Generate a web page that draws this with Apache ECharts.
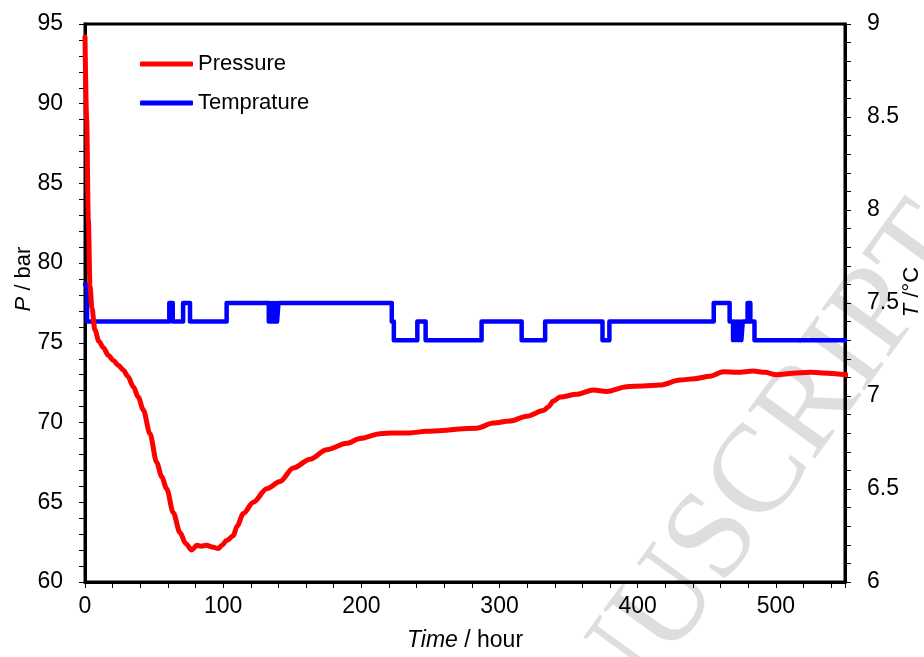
<!DOCTYPE html>
<html>
<head>
<meta charset="utf-8">
<script src="https://cdn.jsdelivr.net/npm/echarts@6/dist/echarts.min.js"></script>
<style>
html,body{margin:0;padding:0;background:#fff;}
#chart{width:924px;height:657px;}
</style>
</head>
<body>
<div id="chart"></div>
<script>
// Pressure (bar) vs time (hour)
var pTime  = [0, 1.2, 2.4, 3.6, 5, 7.2, 10, 13.3, 17, 20.5, 24, 27.7, 31, 35, 38.5, 42.2, 47, 51.9, 55.5, 59.1, 63.9, 68.7, 73, 77.2, 78.5, 80.8, 84, 88, 92, 96.5, 99, 102.5, 107.3, 110, 114.6, 121.8, 131.5, 141.1, 150.7, 162.8, 174.9, 189.4, 199, 213.5, 223, 235, 247, 259, 271, 283.5, 295.5, 307.6, 319.7, 331.7, 335.5, 338.9, 343.8, 355.8, 367.9, 377.5, 392, 404, 416, 430.6, 441, 452.3, 461.9, 472, 483.6, 492, 500.5, 512, 524.7, 538, 551];
var pValue = [94.2, 89, 82.8, 78.6, 77.2, 75.8, 75.1, 74.7, 74.2, 73.9, 73.6, 73.3, 72.9, 72.25, 71.6, 70.8, 69.3, 67.5, 66.6, 65.85, 64.35, 63.1, 62.4, 62.0, 62.1, 62.3, 62.25, 62.3, 62.2, 62.1, 62.3, 62.6, 62.9, 63.5, 64.3, 65.0, 65.85, 66.3, 67.15, 67.7, 68.3, 68.7, 69.0, 69.3, 69.35, 69.35, 69.45, 69.5, 69.6, 69.65, 69.97, 70.1, 70.4, 70.75, 71.0, 71.35, 71.6, 71.77, 72.05, 71.95, 72.25, 72.3, 72.35, 72.67, 72.75, 72.9, 73.18, 73.15, 73.23, 73.15, 73.0, 73.1, 73.15, 73.1, 73.0];

// Temperature (°C): change times and the value held from each time on
var tTime  = [0, 1.5, 61, 63.5, 71, 76, 102.5, 133, 134, 135, 136, 137, 138, 139, 140, 222, 223.5, 240.5, 246.5, 287, 316, 333, 374.5, 379.5, 455, 466.5, 469, 470, 471, 472, 473, 474, 475, 476, 479.5, 481.5, 484.5, 550];
var tValue = [7.6, 7.4, 7.5, 7.4, 7.5, 7.4, 7.5, 7.4, 7.5, 7.4, 7.5, 7.4, 7.5, 7.4, 7.5, 7.4, 7.3, 7.4, 7.3, 7.4, 7.3, 7.4, 7.3, 7.4, 7.5, 7.4, 7.3, 7.4, 7.3, 7.4, 7.3, 7.4, 7.3, 7.4, 7.5, 7.4, 7.3, 7.3];

var seriesNames = ['Pressure', 'Temprature'];
var watermarkText = 'ACCEPTED MANUSCRIPT';

var FONT = 'Liberation Sans, Arial, sans-serif';

var pressureData = pTime.map(function (t, i) { return [t, pValue[i]]; });
var tempData = tTime.map(function (t, i) { return [t, tValue[i]]; });

var chart = echarts.init(document.getElementById('chart'), null, {renderer: 'canvas'});

var tickStyle = {color: '#000', width: 1};
var option = {
  backgroundColor: '#fff',
  animation: false,
  textStyle: {fontFamily: FONT},
  grid: {left: 85, right: 79, top: 24, bottom: 70, show: true, borderColor: '#000', borderWidth: 3, backgroundColor: 'transparent'},
  legend: {
    data: seriesNames,
    orient: 'vertical',
    left: 135,
    top: 48,
    itemWidth: 53,
    itemHeight: 5,
    itemGap: 17,
    icon: 'roundRect',
    textStyle: {fontFamily: FONT, fontSize: 22, color: '#000', lineHeight: 22, padding: [0, 0, 0, 0]}
  },
  xAxis: {
    type: 'value', min: 0, max: 550, interval: 20,
    axisLine: {show: true, onZero: false, lineStyle: {color: '#000', width: 3}},
    axisTick: {show: true, length: 6, lineStyle: tickStyle},
    splitLine: {show: false},
    axisLabel: {
      margin: 13, color: '#000', fontSize: 23, fontFamily: FONT,
      formatter: function (v) { return (Math.round(v) % 100 === 0 && v < 550) ? String(Math.round(v)) : ''; }
    },
    name: '{i|Time} / hour',
    nameLocation: 'middle',
    nameGap: 47,
    nameTextStyle: {fontSize: 23, color: '#000', fontFamily: FONT,
      rich: {i: {fontStyle: 'italic', fontSize: 23, fontFamily: FONT}}}
  },
  yAxis: [{
    type: 'value', min: 60, max: 95, interval: 1, position: 'left',
    axisLine: {show: true, onZero: false, lineStyle: {color: '#000', width: 3}},
    axisTick: {show: true, length: 6, lineStyle: tickStyle},
    splitLine: {show: false},
    axisLabel: {
      margin: 22, color: '#000', fontSize: 23, fontFamily: FONT,
      formatter: function (v) { var r = Math.round(v); return r % 5 === 0 ? String(r) : ''; }
    }
  }, {
    type: 'value', min: 6, max: 9, interval: 0.1, position: 'right',
    axisLine: {show: true, onZero: false, lineStyle: {color: '#000', width: 3}},
    axisTick: {show: true, length: 6, lineStyle: tickStyle},
    splitLine: {show: false},
    axisLabel: {
      margin: 22, color: '#000', fontSize: 23, fontFamily: FONT,
      formatter: function (v) { var r = Math.round(v * 10); return r % 5 === 0 ? String(r / 10) : ''; }
    }
  }],
  graphic: [
    {
      type: 'text', z: -10, silent: true,
      x: 946, y: 222, rotation: 54 * Math.PI / 180,
      style: {text: watermarkText, fill: '#dedede', font: '126px "Liberation Serif", "Times New Roman", serif', align: 'right', verticalAlign: 'middle'}
    },
    {
      type: 'text', x: 24, y: 279, rotation: Math.PI / 2,
      style: {text: '{i|P} / bar', fill: '#000', fontSize: 22, fontFamily: FONT, align: 'center', verticalAlign: 'middle',
        rich: {i: {fontStyle: 'italic', fontSize: 22, fontFamily: FONT, fill: '#000'}}}
    },
    {
      type: 'text', x: 912, y: 292, rotation: Math.PI / 2,
      style: {text: '{i|T} /°C', fill: '#000', fontSize: 22, fontFamily: FONT, align: 'center', verticalAlign: 'middle',
        rich: {i: {fontStyle: 'italic', fontSize: 22, fontFamily: FONT, fill: '#000'}}}
    }
  ],
  series: [
    {
      name: 'Temprature', type: 'line', yAxisIndex: 1, data: tempData, step: 'end',
      showSymbol: false, symbol: 'none', z: 3,
      lineStyle: {color: '#0000ff', width: 4.5, cap: 'round', join: 'round'},
      itemStyle: {color: '#0000ff'}
    },
    {
      name: 'Pressure', type: 'line', yAxisIndex: 0, data: pressureData,
      smooth: 0.3, smoothMonotone: 'x',
      showSymbol: false, symbol: 'none', z: 4,
      lineStyle: {color: '#ff0000', width: 5, cap: 'round', join: 'round'},
      itemStyle: {color: '#ff0000'}
    }
  ]
};
chart.setOption(option);
</script>
</body>
</html>
